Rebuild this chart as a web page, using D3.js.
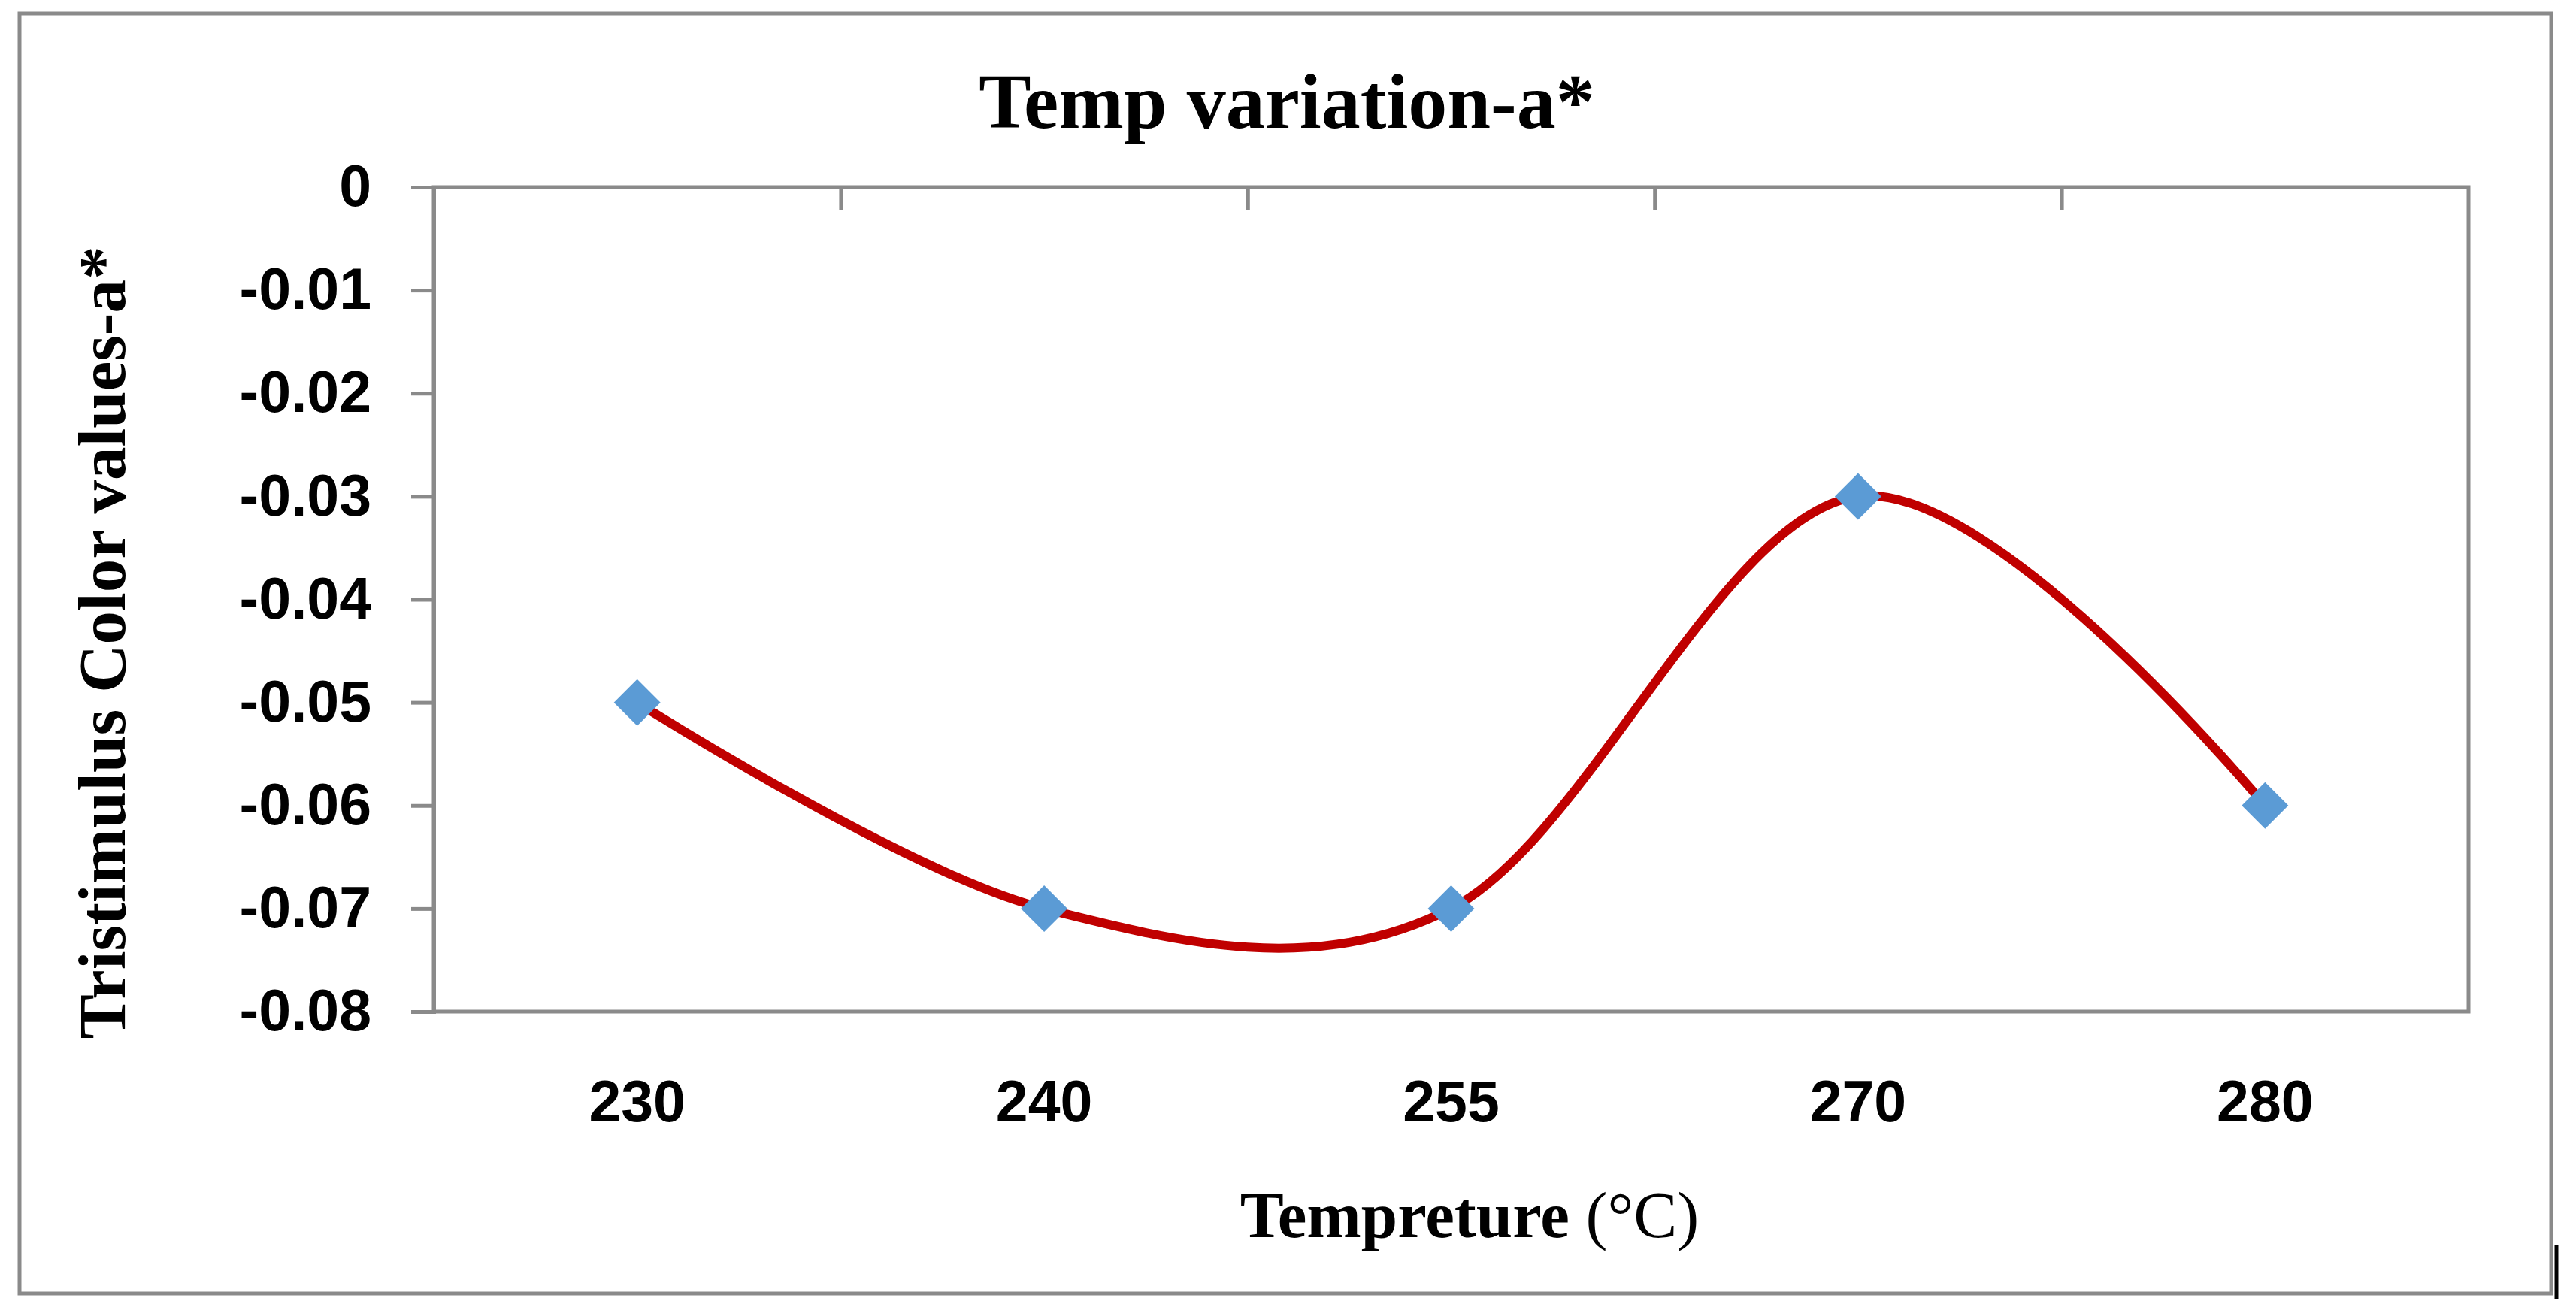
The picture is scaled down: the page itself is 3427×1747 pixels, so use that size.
<!DOCTYPE html>
<html>
<head>
<meta charset="utf-8">
<script src="https://cdn.jsdelivr.net/npm/d3@7"></script>
<style>
  body { margin: 0; background: #fff; }
  .tick text { font-family: "Liberation Sans", Arial, sans-serif; font-weight: bold; font-size: 77px; fill: #000; }
  .ttl { font-family: "Liberation Serif", "Times New Roman", serif; font-weight: bold; fill: #000; }
</style>
</head>
<body>
<div id="chart"></div>
<script>
// data
var temps = ["230", "240", "255", "270", "280"];
var aValues = [-0.05, -0.07, -0.07, -0.03, -0.06];
var yTicks = [0, -0.01, -0.02, -0.03, -0.04, -0.05, -0.06, -0.07, -0.08];
var yTickLabels = ["0", "-0.01", "-0.02", "-0.03", "-0.04", "-0.05", "-0.06", "-0.07", "-0.08"];

var W = 3427, H = 1747;
var plot = { left: 577, top: 249, right: 3284, bottom: 1346 };
var gray = "#8a8a8a";

var svg = d3.select("#chart")
            .append("svg")
            .attr("width", W)
            .attr("height", H)
            .style("display", "block");

svg.append("rect").attr("width", W).attr("height", H).attr("fill", "#fff");

// outer frame
svg.append("rect")
   .attr("x", 26).attr("y", 18)
   .attr("width", 3368).attr("height", 1703)
   .attr("fill", "none")
   .attr("stroke", gray)
   .attr("stroke-width", 5);

// stray mark at lower right
svg.append("line")
   .attr("x1", 3401).attr("x2", 3401)
   .attr("y1", 1657).attr("y2", 1728)
   .attr("stroke", "#000")
   .attr("stroke-width", 5);

var x = d3.scaleBand()
          .domain(temps)
          .range([plot.left, plot.right]);

var y = d3.scaleLinear()
          .domain([-0.08, 0])
          .range([plot.bottom, plot.top]);

// plot frame
svg.append("rect")
   .attr("x", plot.left).attr("y", plot.top)
   .attr("width", plot.right - plot.left)
   .attr("height", plot.bottom - plot.top)
   .attr("fill", "none")
   .attr("stroke", gray)
   .attr("stroke-width", 5);

// y axis
var yAxis = d3.axisLeft(y)
              .tickValues(yTicks)
              .tickSize(30)
              .tickPadding(53)
              .tickFormat(function(d, i) { return yTickLabels[i]; });

var gy = svg.append("g")
            .attr("transform", "translate(" + plot.left + ",0)")
            .call(yAxis);
gy.select(".domain").attr("stroke", gray).attr("stroke-width", 5);
gy.selectAll(".tick line").attr("stroke", gray).attr("stroke-width", 5);

// category boundary ticks along the zero line (top)
var idx = d3.scaleLinear().domain([0, temps.length]).range([plot.left, plot.right]);
var gTop = svg.append("g")
              .attr("transform", "translate(0," + plot.top + ")")
              .call(d3.axisBottom(idx).tickValues([1, 2, 3, 4]).tickSize(30).tickFormat(""));
gTop.select(".domain").remove();
gTop.selectAll(".tick line").attr("stroke", gray).attr("stroke-width", 5);

// x labels (low position)
var gx = svg.append("g")
            .attr("transform", "translate(0," + plot.bottom + ")")
            .call(d3.axisBottom(x).tickSize(0).tickPadding(91));
gx.select(".domain").remove();

// smoothed line
var pts = temps.map(function(t, i) { return [x(t) + x.bandwidth() / 2, y(aValues[i])]; });

svg.append("path")
   .datum(pts)
   .attr("fill", "none")
   .attr("stroke", "#c00000")
   .attr("stroke-width", 12)
   .attr("stroke-linejoin", "round")
   .attr("d", d3.line().curve(d3.curveCatmullRom.alpha(0)));

// diamond markers
var r = 31;
svg.selectAll(".marker")
   .data(pts)
   .enter()
   .append("path")
   .attr("class", "marker")
   .attr("fill", "#5b9bd5")
   .attr("d", function(p) {
     return "M" + p[0] + "," + (p[1] - r) + "L" + (p[0] + r) + "," + p[1] +
            "L" + p[0] + "," + (p[1] + r) + "L" + (p[0] - r) + "," + p[1] + "Z";
   });

// titles
svg.append("text")
   .attr("class", "ttl")
   .attr("x", 1712).attr("y", 170)
   .attr("text-anchor", "middle")
   .attr("font-size", "104px")
   .text("Temp variation-a*");

var xt = svg.append("text")
   .attr("class", "ttl")
   .attr("x", 1955).attr("y", 1646)
   .attr("text-anchor", "middle")
   .attr("font-size", "87px");
xt.append("tspan").text("Tempreture ");
xt.append("tspan").attr("font-weight", "normal").text("(°C)");

svg.append("text")
   .attr("class", "ttl")
   .attr("text-anchor", "middle")
   .attr("font-size", "89px")
   .attr("transform", "translate(166,855) rotate(-90)")
   .text("Tristimulus Color values-a*");
</script>
</body>
</html>
